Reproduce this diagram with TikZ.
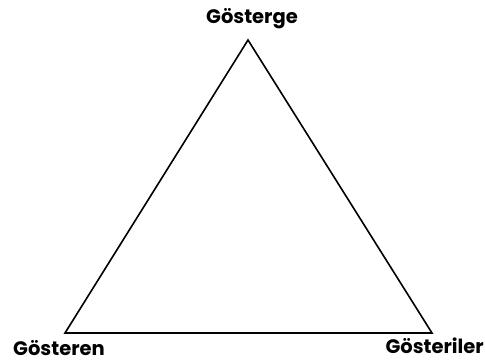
\documentclass[tikz,border=0pt]{standalone}
\usepackage{fontspec}
\setmainfont{Poppins}
\usetikzlibrary{positioning}

\begin{document}
\begin{tikzpicture}[x=1pt, y=-1pt, line cap=round, line join=miter]
  \useasboundingbox (0,0) rectangle (485,361);
  \tikzset{vlabel/.style={font=\fontsize{19.5}{19.5}\selectfont\bfseries, inner sep=0pt}}

  \coordinate (top)   at (248,40);
  \coordinate (left)  at (65,333);
  \coordinate (right) at (432,333);

  \draw[line width=1.6pt] (top)--(left)--(right)--cycle; % sign triangle

  \node[vlabel, anchor=base] (gosterge) at (252,24) {Gösterge};
  \node[vlabel, anchor=base west] (gosteren) at (13,355) {Gösteren};
  \node[vlabel, anchor=base east] (gosteriler) at (484,353) {Gösteriler};
\end{tikzpicture}
\end{document}
